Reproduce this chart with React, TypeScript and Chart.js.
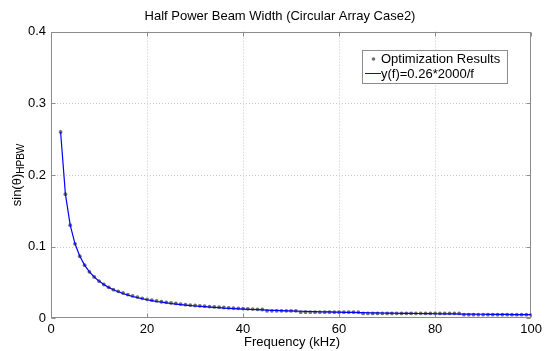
import React, { useEffect, useRef } from "react";
import { Chart, registerables } from "chart.js";

Chart.register(...registerables);

const TITLE = "Half Power Beam Width (Circular Array Case2)";
const X_TITLE = "Frequency (kHz)";
const Y_TITLE_MAIN = "sin(θ)";
const Y_TITLE_SUB = "HPBW";
const LEGEND_DOTS = "Optimization Results";
const LEGEND_LINE = "y(f)=0.26*2000/f";

const X_TICKS = [0, 20, 40, 60, 80, 100];
const Y_TICKS = [0, 0.1, 0.2, 0.3, 0.4];

// frequencies (kHz)
const freqs = [
  2, 3, 4, 5, 6, 7, 8, 9, 10, 11, 12, 13, 14, 15, 16, 17, 18, 19, 20, 21,
  22, 23, 24, 25, 26, 27, 28, 29, 30, 31, 32, 33, 34, 35, 36, 37, 38, 39, 40, 41,
  42, 43, 44, 45, 46, 47, 48, 49, 50, 51, 52, 53, 54, 55, 56, 57, 58, 59, 60, 61,
  62, 63, 64, 65, 66, 67, 68, 69, 70, 71, 72, 73, 74, 75, 76, 77, 78, 79, 80, 81,
  82, 83, 84, 85, 86, 87, 88, 89, 90, 91, 92, 93, 94, 95, 96, 97, 98, 99, 100,
];

// fitted curve values y(f)
const fitValues = [
  0.26, 0.1733, 0.13, 0.104, 0.0867, 0.0743, 0.065, 0.0578, 0.052, 0.0473,
  0.0433, 0.04, 0.0371, 0.0347, 0.0325, 0.0306, 0.0289, 0.0274, 0.026, 0.0248,
  0.0236, 0.0226, 0.0217, 0.0208, 0.02, 0.0193, 0.0186, 0.0179, 0.0173, 0.0168,
  0.0163, 0.0158, 0.0153, 0.0149, 0.0144, 0.0141, 0.0137, 0.0133, 0.013, 0.0127,
  0.0124, 0.0121, 0.0118, 0.0116, 0.0113, 0.0111, 0.0108, 0.0106, 0.0104, 0.0102,
  0.01, 0.0098, 0.0096, 0.0095, 0.0093, 0.0091, 0.009, 0.0088, 0.0087, 0.0085,
  0.0084, 0.0083, 0.0081, 0.008, 0.0079, 0.0078, 0.0076, 0.0075, 0.0074, 0.0073,
  0.0072, 0.0071, 0.007, 0.0069, 0.0068, 0.0068, 0.0067, 0.0066, 0.0065, 0.0064,
  0.0063, 0.0063, 0.0062, 0.0061, 0.006, 0.006, 0.0059, 0.0058, 0.0058, 0.0057,
  0.0057, 0.0056, 0.0055, 0.0055, 0.0054, 0.0054, 0.0053, 0.0053, 0.0052,
];

// optimization result values
const optValues = [
  0.26, 0.1733, 0.13, 0.104, 0.0867, 0.0743, 0.065, 0.0578, 0.052, 0.0473,
  0.0433, 0.0401, 0.0378, 0.0354, 0.0332, 0.0314, 0.0297, 0.028, 0.0265, 0.0254,
  0.0244, 0.0232, 0.0224, 0.0215, 0.0209, 0.02, 0.0192, 0.0186, 0.018, 0.0175,
  0.017, 0.0165, 0.016, 0.0157, 0.0152, 0.0148, 0.0144, 0.014, 0.0137, 0.0133,
  0.013, 0.0127, 0.0124, 0.0105, 0.0105, 0.0105, 0.0105, 0.0105, 0.0105, 0.0105,
  0.0087, 0.0087, 0.0087, 0.0087, 0.0087, 0.0087, 0.0087, 0.0087, 0.0087, 0.0087,
  0.0087, 0.0087, 0.0087, 0.007, 0.007, 0.007, 0.007, 0.007, 0.007, 0.007,
  0.007, 0.007, 0.007, 0.007, 0.007, 0.007, 0.007, 0.007, 0.007, 0.007,
  0.007, 0.007, 0.007, 0.007, 0.0052, 0.0052, 0.0052, 0.0052, 0.0052, 0.0052,
  0.0052, 0.0052, 0.0052, 0.0052, 0.0052, 0.0052, 0.0052, 0.0052, 0.0052,
];

const FONT = "'Liberation Sans', Arial, Helvetica, sans-serif";
const DOT_COLOR = "#6f6f6f";

const decorPlugin = {
  id: "matlabDecor",
  beforeDatasetsDraw(chart: any) {
    const { ctx, chartArea, scales } = chart;
    const { left, right, top, bottom } = chartArea;
    ctx.save();
    // dotted grid
    ctx.strokeStyle = "#c8c8c8";
    ctx.lineWidth = 1;
    ctx.setLineDash([1, 2]);
    X_TICKS.forEach((v) => {
      if (v === X_TICKS[0] || v === X_TICKS[X_TICKS.length - 1]) return;
      const x = Math.round(scales.x.getPixelForValue(v)) + 0.5;
      ctx.beginPath();
      ctx.moveTo(x, top);
      ctx.lineTo(x, bottom);
      ctx.stroke();
    });
    Y_TICKS.forEach((v) => {
      if (v === Y_TICKS[0] || v === Y_TICKS[Y_TICKS.length - 1]) return;
      const y = Math.round(scales.y.getPixelForValue(v)) + 0.5;
      ctx.beginPath();
      ctx.moveTo(left, y);
      ctx.lineTo(right, y);
      ctx.stroke();
    });
    ctx.setLineDash([]);
    // box
    ctx.strokeStyle = "#8c8c8c";
    const l = Math.round(left) + 0.5;
    const r = Math.round(right) - 0.5;
    const t = Math.round(top) + 0.5;
    const b = Math.round(bottom) - 0.5;
    ctx.strokeRect(l, t, r - l, b - t);
    // inward ticks
    const tl = 4;
    X_TICKS.forEach((v) => {
      const x = Math.round(scales.x.getPixelForValue(v)) + 0.5;
      ctx.beginPath();
      ctx.moveTo(x, b);
      ctx.lineTo(x, b - tl);
      ctx.moveTo(x, t);
      ctx.lineTo(x, t + tl);
      ctx.stroke();
    });
    Y_TICKS.forEach((v) => {
      const y = Math.round(scales.y.getPixelForValue(v)) + 0.5;
      ctx.beginPath();
      ctx.moveTo(l, y);
      ctx.lineTo(l + tl, y);
      ctx.moveTo(r, y);
      ctx.lineTo(r - tl, y);
      ctx.stroke();
    });
    ctx.restore();
  },
  afterDraw(chart: any) {
    const { ctx, chartArea } = chart;
    ctx.save();
    ctx.fillStyle = "#000";
    // title
    ctx.font = `13px ${FONT}`;
    ctx.textAlign = "center";
    ctx.textBaseline = "middle";
    ctx.fillText(TITLE, 280, 16);
    // x title
    ctx.fillText(X_TITLE, 292, 342);
    // y title with subscript
    const cy = (chartArea.top + chartArea.bottom) / 2;
    ctx.translate(21, cy);
    ctx.rotate(-Math.PI / 2);
    ctx.textAlign = "left";
    ctx.textBaseline = "alphabetic";
    ctx.font = `13px ${FONT}`;
    const w1 = ctx.measureText(Y_TITLE_MAIN).width;
    ctx.font = `10px ${FONT}`;
    const w2 = ctx.measureText(Y_TITLE_SUB).width;
    const start = -(w1 + w2) / 2;
    ctx.font = `13px ${FONT}`;
    ctx.fillText(Y_TITLE_MAIN, start, 0);
    ctx.font = `10px ${FONT}`;
    ctx.fillText(Y_TITLE_SUB, start + w1, 3);
    ctx.restore();

    // legend
    ctx.save();
    const bx = 362.5, by = 50.5, bw = 145, bh = 33;
    ctx.fillStyle = "#fff";
    ctx.fillRect(bx, by, bw, bh);
    ctx.strokeStyle = "#8c8c8c";
    ctx.lineWidth = 1;
    ctx.strokeRect(bx, by, bw, bh);
    ctx.fillStyle = DOT_COLOR;
    ctx.beginPath();
    ctx.arc(373.5, 59, 1.8, 0, Math.PI * 2);
    ctx.fill();
    ctx.strokeStyle = "#0000ff";
    ctx.beginPath();
    ctx.moveTo(365, 73.5);
    ctx.lineTo(381, 73.5);
    ctx.stroke();
    ctx.fillStyle = "#000";
    ctx.font = `13px ${FONT}`;
    ctx.textAlign = "left";
    ctx.textBaseline = "middle";
    ctx.fillText(LEGEND_DOTS, 381, 59);
    ctx.fillText(LEGEND_LINE, 381, 74);
    ctx.restore();
  },
};

export default function App() {
  const canvasRef = useRef<HTMLCanvasElement | null>(null);

  useEffect(() => {
    if (!canvasRef.current) return;
    const optData = freqs.map((f, i) => ({ x: f, y: optValues[i] }));
    const fitData = freqs.map((f, i) => ({ x: f, y: fitValues[i] }));
    const chart = new Chart(canvasRef.current, {
      type: "scatter",
      data: {
        datasets: [
          {
            label: LEGEND_DOTS,
            data: optData,
            showLine: false,
            pointRadius: 1.9,
            pointBackgroundColor: DOT_COLOR,
            pointBorderWidth: 0,
            order: 2,
          },
          {
            label: LEGEND_LINE,
            data: fitData,
            showLine: true,
            borderColor: "#0000ff",
            borderWidth: 1.2,
            pointRadius: 0,
            tension: 0,
            order: 1,
          },
        ],
      },
      options: {
        responsive: false,
        animation: false,
        events: [],
        layout: { padding: { top: 31.6, right: 12, left: 0, bottom: 0 } },
        plugins: {
          legend: { display: false },
          title: { display: false },
          tooltip: { enabled: false },
        },
        scales: {
          x: {
            type: "linear",
            min: 0,
            max: 100,
            afterFit: (s: any) => {
              s.height = 351 - 318.4;
            },
            afterBuildTicks: (s: any) => {
              s.ticks = X_TICKS.map((v) => ({ value: v }));
            },
            ticks: {
              color: "#000",
              font: { size: 13, family: FONT },
              padding: 3,
              maxRotation: 0,
              callback: (v: any) => String(v),
            },
            grid: { display: false, drawTicks: false },
            border: { display: false },
          },
          y: {
            type: "linear",
            min: 0,
            max: 0.4,
            afterFit: (s: any) => {
              s.width = 51;
            },
            afterBuildTicks: (s: any) => {
              s.ticks = Y_TICKS.map((v) => ({ value: v }));
            },
            ticks: {
              color: "#000",
              font: { size: 13, family: FONT },
              padding: 5,
              callback: (v: any) => (v === 0 ? "0" : String(Math.round(v * 10) / 10)),
            },
            grid: { display: false, drawTicks: false },
            border: { display: false },
          },
        },
      },
      plugins: [decorPlugin],
    });
    return () => chart.destroy();
  }, []);

  return (
    <div style={{ position: "fixed", left: 0, top: 0, width: 545, height: 351, background: "#fff" }}>
      <canvas ref={canvasRef} width={545} height={351} style={{ display: "block" }} />
    </div>
  );
}
